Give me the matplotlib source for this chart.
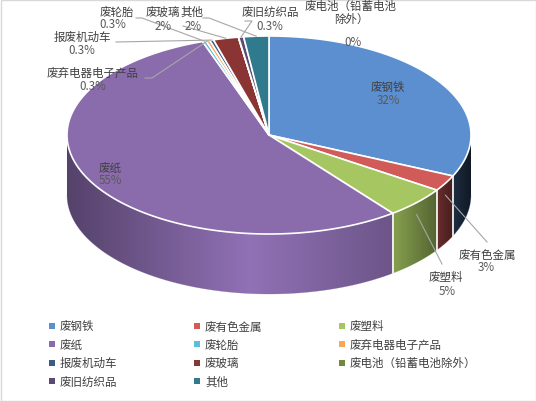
import numpy as np
import matplotlib
matplotlib.use('Agg')
import matplotlib.pyplot as plt
from matplotlib.patches import Polygon, Rectangle
from matplotlib.colors import to_rgb

plt.rcParams['font.family'] = ['Noto Sans CJK SC', 'DejaVu Sans']

# ---------------- data ----------------
categories = ['废钢铁', '废有色金属', '废塑料', '废纸', '废轮胎', '废弃电器电子产品',
              '报废机动车', '废玻璃', '废电池（铅蓄电池除外）', '废旧纺织品', '其他']
values = [31.7, 2.6, 5.1, 55.0, 0.3, 0.3, 0.3, 2.0, 0.02, 0.4, 2.0]
pct_labels = ['32%', '3%', '5%', '55%', '0.3%', '0.3%', '0.3%', '2%', '0%', '0.3%', '2%']
slice_names = ['废钢铁', '废有色金属', '废塑料', '废纸', '废轮胎', '废弃电器电子产品',
               '报废机动车', '废玻璃', '废电池（铅蓄电池\n除外）', '废旧纺织品', '其他']
colors = ['#5B8FCF', '#D05B58', '#A6C662', '#8A6CAD', '#5BBFDC', '#F9A55B',
          '#3D5A83', '#8B3434', '#6F8A3D', '#5C4A75', '#2F7A8C']

# ---------------- layout (pixels) ----------------
W, H = 536, 402
cx, cy, rx, ry, depth = 269, 136, 202, 99, 60
FS = 8.3

# label placement: (name_xy, pct_xy, leader_start)
label_pos = [
    ((388, 87), (388, 100), None),
    ((487, 255), (486, 268), [(487, 243)]),
    ((446, 278), (447, 292), [(442, 265)]),
    ((110, 168), (110, 181), None),
    ((117, 12), (113, 24), [(136, 19), (142, 19)]),
    ((93, 73), (93, 87), [(145, 79), (152, 79)]),
    ((82, 37), (82, 50), [(116, 43)]),
    ((163, 12), (163, 26), [(183, 27)]),
    ((351, 13), (353, 42), None),
    ((270, 12), (270, 26), [(245, 22), (252, 22)]),
    ((192, 12), (193, 26), [(203, 19), (209, 19)]),
]

fig = plt.figure(figsize=(W / 100, H / 100), dpi=100)
ax = fig.add_axes([0, 0, 1, 1])
ax.set_xlim(0, W)
ax.set_ylim(H, 0)
ax.axis('off')

ax.add_patch(Rectangle((0.5, 0.5), W - 1, H - 1, facecolor='white',
                       edgecolor='#D9D9D9', lw=1, zorder=0))


def pt(theta, dy=0.0):
    t = np.radians(theta)
    return cx + rx * np.sin(t), cy - ry * np.cos(t) + dy


def shade(x):
    return np.interp(x, [60, 250, 397, 437, 455, 472],
                     [0.60, 1.05, 0.78, 0.50, 0.30, 0.16])


total = float(sum(values))
angles = np.concatenate([[0], np.cumsum(values) / total * 360.0])

# walls (front half only), gradient-filled via clipped images
for i, v in enumerate(values):
    a0, a1 = max(angles[i], 90), min(angles[i + 1], 270)
    if a1 <= a0:
        continue
    ths = np.linspace(a0, a1, max(3, int((a1 - a0) / 0.5) + 2))
    top = [pt(t) for t in ths]
    bot = [pt(t, depth) for t in ths[::-1]]
    poly = Polygon(top + bot, closed=True, facecolor='none', edgecolor='none',
                   zorder=1)
    ax.add_patch(poly)
    xs = [p[0] for p in top]
    ys = [p[1] for p in top + bot]
    x0, x1 = min(xs) - 1, max(xs) + 1
    y0, y1 = min(ys) - 1, max(ys) + 1
    gx = np.linspace(x0, x1, 200)
    base = np.array(to_rgb(colors[i]))
    img = np.clip(base[None, :] * shade(gx)[:, None], 0, 1)[None, :, :]
    im = ax.imshow(img, extent=(x0, x1, y1, y0), aspect='auto',
                   interpolation='bilinear', zorder=1)
    im.set_clip_path(poly)
    ax.plot([p[0] for p in bot], [p[1] for p in bot], color=(base * 0.9),
            lw=0.4, alpha=0.4, zorder=1.5)

ax.set_xlim(0, W)
ax.set_ylim(H, 0)

# separators on wall
for b in angles[1:-1]:
    if 90 < b < 270:
        p, q = pt(b), pt(b, depth)
        ax.plot([p[0], q[0]], [p[1], q[1]], color='white', lw=1.2, zorder=2)

# top face
for i, v in enumerate(values):
    ths = np.linspace(angles[i], angles[i + 1],
                      max(3, int((angles[i + 1] - angles[i]) / 0.5) + 2))
    poly = [(cx, cy)] + [pt(t) for t in ths]
    ax.add_patch(Polygon(poly, closed=True, facecolor=colors[i],
                         edgecolor='white', lw=1.2, joinstyle='miter', zorder=3))

# labels and leader lines
for i in range(len(values)):
    (nx, ny), (px, py), lead = label_pos[i]
    ax.text(nx, ny, slice_names[i], ha='center', va='center', fontsize=FS,
            color='#404040', zorder=6, linespacing=1.0)
    ax.text(px, py, pct_labels[i], ha='center', va='center', fontsize=FS,
            color='#595959', zorder=6)
    mid = (angles[i] + angles[i + 1]) / 2
    if lead is not None:
        dy = depth * 0.2 if 90 < mid < 270 else 0.0
        ex, ey = pt(mid, dy)
        xs = [p[0] for p in lead] + [ex]
        ys = [p[1] for p in lead] + [ey]
        ax.plot(xs, ys, color='#A6A6A6', lw=0.8, zorder=5)

# legend
for i, name in enumerate(categories):
    col, row = i % 3, i // 3
    mx = 52 + col * 145
    my = 327 + row * 18.3
    ax.add_patch(Rectangle((mx - 3, my - 3), 6, 6, facecolor=colors[i],
                           edgecolor='none', zorder=6))
    ax.text(mx + 8, my, name, ha='left', va='center', fontsize=FS,
            color='#404040', zorder=6)

fig.savefig('out.png', dpi=100)
